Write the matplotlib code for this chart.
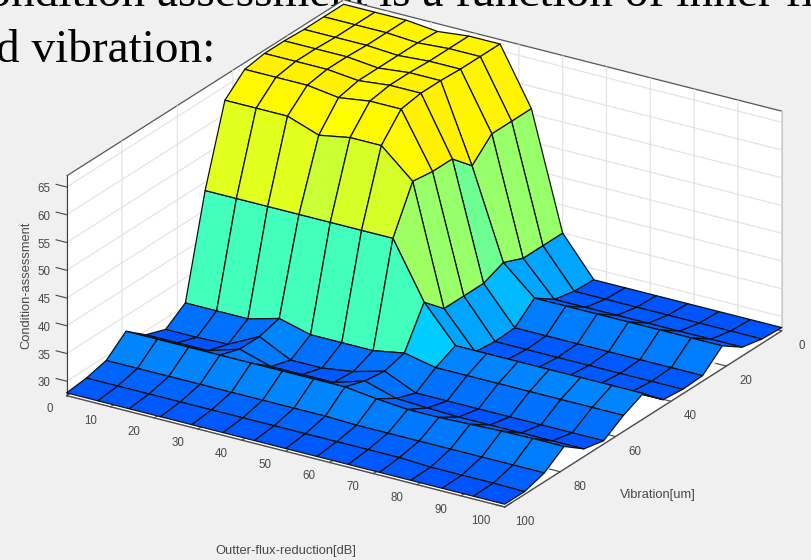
import numpy as np
import matplotlib
matplotlib.use('Agg')
import matplotlib.pyplot as plt
from matplotlib.colors import LinearSegmentedColormap, Normalize

x_values = np.array([0, 7.14, 14.29, 21.43, 28.57, 35.71, 42.86, 50, 57.14, 64.29, 71.43, 78.57, 85.71, 92.86, 100])
y_values = np.array([0, 7.14, 14.29, 21.43, 28.57, 35.71, 42.86, 50, 57.14, 64.29, 71.43, 78.57, 85.71, 92.86, 100])
# one row per Vibration value, one column per Outter-flux-reduction value
z_rows = [
    [66.2, 66.2, 66.2, 65.6, 66.2, 66.2, 56.0, 35.0, 28.0, 28.0, 28.0, 28.0, 28.0, 28.0, 28.0],
    [66.2, 66.2, 66.2, 65.8, 66.2, 66.2, 56.0, 35.0, 28.2, 28.2, 28.2, 28.2, 28.2, 28.2, 28.2],
    [66.2, 66.2, 66.2, 65.8, 66.2, 66.2, 56.0, 35.0, 29.0, 29.0, 29.0, 29.0, 29.0, 29.0, 29.0],
    [66.4, 66.4, 66.4, 65.8, 66.4, 66.4, 52.5, 36.5, 31.5, 31.5, 31.5, 31.5, 31.5, 31.5, 31.5],
    [66.4, 66.4, 66.4, 65.8, 66.4, 66.4, 56.0, 35.0, 28.4, 28.4, 28.4, 28.4, 28.4, 28.4, 28.4],
    [65.8, 65.8, 65.8, 65.0, 65.8, 65.8, 56.0, 35.0, 28.2, 28.2, 28.2, 28.2, 28.2, 28.2, 28.2],
    [62.5, 62.5, 62.5, 60.5, 61.5, 61.5, 56.5, 35.0, 28.6, 28.6, 28.6, 28.6, 28.6, 28.6, 28.6],
    [48.5, 48.5, 48.5, 48.5, 48.5, 48.5, 48.5, 38.4, 32.0, 32.0, 32.0, 32.0, 32.0, 32.0, 32.0],
    [30.5, 30.5, 30.5, 32.0, 30.5, 30.5, 30.5, 31.5, 30.3, 30.3, 30.3, 30.3, 30.3, 30.3, 30.3],
    [28.0, 28.0, 28.2, 31.0, 28.2, 28.2, 29.0, 30.5, 28.0, 28.0, 28.0, 28.0, 28.0, 28.0, 28.0],
    [29.3, 29.3, 29.3, 31.0, 29.3, 29.3, 29.3, 31.0, 29.3, 29.0, 28.8, 28.8, 28.8, 28.8, 28.8],
    [32.2, 32.2, 32.2, 32.2, 32.2, 32.2, 32.2, 32.2, 31.5, 31.0, 31.0, 31.2, 31.4, 31.5, 31.5],
    [29.2, 29.2, 29.2, 29.2, 29.2, 29.2, 29.2, 29.2, 29.0, 29.0, 29.0, 29.0, 29.0, 29.0, 29.0],
    [28.3, 28.3, 28.3, 28.3, 28.3, 28.3, 28.3, 28.3, 28.3, 28.3, 28.3, 28.0, 28.0, 28.0, 27.9],
    [27.9, 27.9, 27.9, 27.9, 27.9, 27.9, 27.9, 27.9, 27.9, 27.9, 27.9, 27.9, 27.9, 27.9, 27.9],
]
x_ticks = [0, 10, 20, 30, 40, 50, 60, 70, 80, 90, 100]
y_ticks = [0, 20, 40, 60, 80, 100]
z_ticks = [30, 35, 40, 45, 50, 55, 60, 65]
line_one = "Condition assessment is a function of inner flux"
line_two = "d vibration:"
x_label = "Outter-flux-reduction[dB]"
y_label = "Vibration[um]"
z_label = "Condition-assessment"

BG = '#F0F0F0'
TXT = '#484848'
plt.rcParams['font.family'] = ['Liberation Sans', 'DejaVu Sans']

fig = plt.figure(figsize=(8.11, 5.6), dpi=100, facecolor=BG)

fig.text(-0.054, 0.989, line_one, family='Liberation Serif', fontsize=34, color='black', zorder=-1, va='baseline')
fig.text(-0.005, 0.889, line_two, family='Liberation Serif', fontsize=34, color='black', zorder=-1, va='baseline')

S = 560
ax = fig.add_axes([0.5137 - S/811/2, 0.534 - S/560/2, S/811, S/560], projection='3d')
ax.patch.set_alpha(0)
ax.set_proj_type('ortho')
ax.view_init(elev=23.7, azim=-57.7)
ax.set_box_aspect((1, 1, 0.463), zoom=1.337)

X, Y = np.meshgrid(x_values, y_values)
Z = np.array(z_rows)
jet_like = LinearSegmentedColormap.from_list('jet_like', [
    (0, (0, 0, .5)), (.125, (0, 0, 1)), (.375, (0, 1, 1)), (.625, (1, 1, 0)), (.875, (1, 0, 0)), (1, (.5, 0, 0))])
norm = Normalize(9.2, 98.8)
fc = jet_like(norm(Z))
surf = ax.plot_surface(X, Y, Z, facecolors=fc, rstride=1, cstride=1, shade=False,
                       edgecolor='#101010', linewidth=0.9, antialiased=True)
surf.set_clip_on(False)

ax.set_xlim(0, 100, view_margin=0)
ax.set_ylim(100, 0, view_margin=0)
ax.set_zlim(27.4, 67, view_margin=0)
ax.set_xticks(x_ticks)
ax.set_yticks(y_ticks)
ax.set_zticks(z_ticks)
for axis in (ax.xaxis, ax.yaxis, ax.zaxis):
    axis.set_pane_color((1, 1, 1, 1))
    axis.pane.set_edgecolor('#555555')
    axis.pane.set_linewidth(0.9)
    axis._axinfo['grid'].update(color='#E4E4E4', linewidth=0.9)
    axis.line.set_color('#404040')
    axis.line.set_linewidth(0.8)
    axis._axinfo['tick'].update(inward_factor=0.0, outward_factor=0.3, linewidth={True: .8, False: .5}, color='#404040')
ax.zaxis._axinfo['juggled'] = (1, 2, 0)
ax.tick_params(axis='x', labelsize=8.3, colors=TXT, pad=2.5)
ax.tick_params(axis='y', labelsize=8.3, colors=TXT, pad=1.5)
ax.tick_params(axis='z', labelsize=8.3, colors=TXT, pad=-1.3)
for tick in ax.xaxis.get_major_ticks():
    tick.label1.set_va('bottom')
    tick.label1.set_ha('right')
for tick in ax.yaxis.get_major_ticks():
    tick.label1.set_va('center')
for tick in ax.zaxis.get_major_ticks():
    tick.label1.set_va('center')

fig.text(286/811, 1-551/560, x_label, fontsize=9.3, color=TXT, ha='center', va='center')
fig.text(658/811, 1-495/560, y_label, fontsize=9.3, color=TXT, ha='center', va='center')
fig.text(26/811, 1-285/560, z_label, fontsize=9.3, color=TXT, ha='center', va='center', rotation=90)

fig.savefig('out.png', dpi=100, facecolor=BG)
